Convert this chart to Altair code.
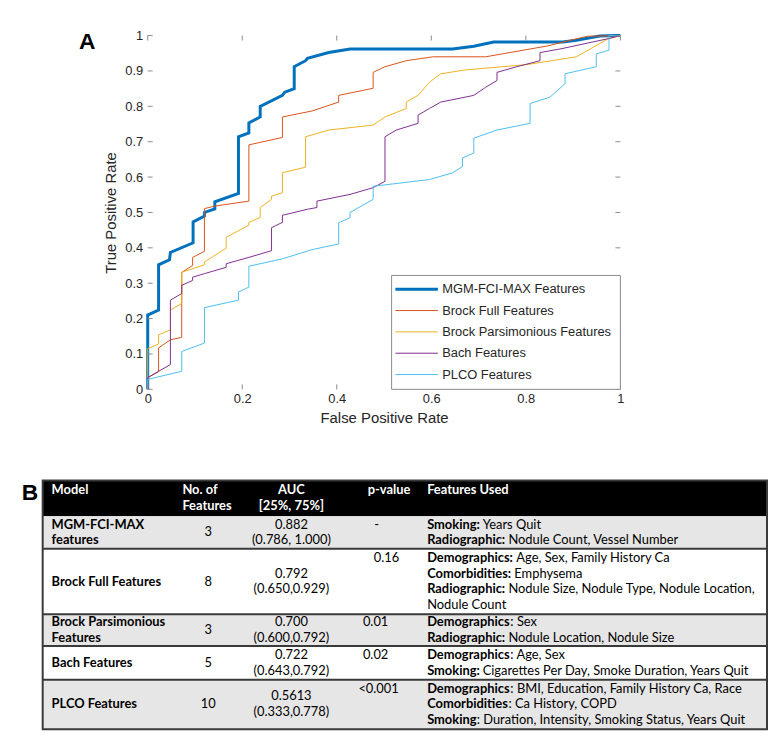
import altair as alt
import pandas as pd

# ---------------- ROC curve data ----------------
SERIES = ["MGM-FCI-MAX Features", "Brock Full Features",
          "Brock Parsimonious Features", "Bach Features", "PLCO Features"]
COLORS = ["#0072BD", "#D95319", "#EDB120", "#7E2F8E", "#4DBEEE"]
WIDTHS = [3.0, 1.0, 1.0, 1.0, 1.0]

MGM_FPR = [0, 0, 0.023, 0.023, 0.046, 0.048, 0.096, 0.096, 0.12, 0.12,
           0.142, 0.142, 0.192, 0.192, 0.214, 0.214, 0.238, 0.238, 0.285, 0.29,
           0.31, 0.31, 0.334, 0.338, 0.383, 0.428, 0.645, 0.69, 0.732, 0.878,
           0.907, 0.956, 0.99, 1.0]
MGM_TPR = [0, 0.21, 0.224, 0.352, 0.366, 0.387, 0.414, 0.473, 0.49, 0.50,
           0.51, 0.53, 0.554, 0.714, 0.725, 0.753, 0.77, 0.80, 0.831, 0.84,
           0.85, 0.912, 0.929, 0.936, 0.952, 0.962, 0.962, 0.97, 0.982, 0.982,
           0.987, 0.999, 1.0, 1.0]

BROCK_FPR = [0, 0, 0.023, 0.023, 0.048, 0.072, 0.072, 0.095, 0.095, 0.12,
             0.12, 0.142, 0.214, 0.214, 0.285, 0.285, 0.348, 0.404, 0.404, 0.477,
             0.477, 0.502, 0.547, 0.603, 0.715, 0.847, 0.904, 0.93, 1.0]
BROCK_TPR = [0, 0.033, 0.05, 0.117, 0.14, 0.147, 0.331, 0.35, 0.373, 0.39,
             0.511, 0.518, 0.532, 0.691, 0.712, 0.77, 0.787, 0.812, 0.831, 0.851,
             0.896, 0.912, 0.929, 0.94, 0.94, 0.971, 0.99, 0.998, 1.0]

PARS_FPR = [0, 0, 0.023, 0.023, 0.048, 0.048, 0.072, 0.072, 0.12, 0.12,
            0.166, 0.166, 0.214, 0.214, 0.238, 0.238, 0.262, 0.262, 0.285, 0.285,
            0.334, 0.334, 0.383, 0.477, 0.502, 0.547, 0.547, 0.572, 0.596, 0.62,
            0.673, 0.802, 0.907, 0.973, 1.0]
PARS_TPR = [0, 0.115, 0.128, 0.154, 0.168, 0.224, 0.243, 0.331, 0.352, 0.36,
            0.399, 0.43, 0.464, 0.472, 0.486, 0.514, 0.537, 0.546, 0.556, 0.612,
            0.628, 0.714, 0.733, 0.747, 0.77, 0.794, 0.812, 0.831, 0.868, 0.892,
            0.903, 0.918, 0.94, 0.99, 1.0]

BACH_FPR = [0, 0, 0.023, 0.048, 0.048, 0.072, 0.072, 0.095, 0.095, 0.12,
            0.166, 0.166, 0.214, 0.262, 0.262, 0.285, 0.285, 0.338, 0.358, 0.358,
            0.428, 0.477, 0.502, 0.502, 0.526, 0.572, 0.572, 0.596, 0.62, 0.69,
            0.715, 0.739, 0.739, 0.781, 0.83, 0.83, 0.872, 0.97, 1.0]
BACH_TPR = [0, 0.033, 0.051, 0.07, 0.252, 0.271, 0.294, 0.308, 0.317, 0.327,
            0.345, 0.355, 0.373, 0.392, 0.457, 0.472, 0.492, 0.509, 0.514, 0.532,
            0.551, 0.57, 0.588, 0.714, 0.733, 0.752, 0.775, 0.794, 0.812, 0.831,
            0.854, 0.873, 0.896, 0.912, 0.929, 0.952, 0.962, 0.99, 1.0]

PLCO_FPR = [0, 0, 0.072, 0.072, 0.12, 0.12, 0.192, 0.192, 0.214, 0.214,
            0.285, 0.348, 0.404, 0.404, 0.428, 0.428, 0.477, 0.477, 0.596, 0.645,
            0.666, 0.666, 0.69, 0.69, 0.739, 0.809, 0.809, 0.851, 0.883, 0.883,
            0.949, 0.949, 0.976, 0.976, 1.0]
PLCO_TPR = [0, 0.028, 0.051, 0.107, 0.131, 0.231, 0.252, 0.275, 0.289, 0.348,
            0.369, 0.395, 0.411, 0.471, 0.485, 0.50, 0.537, 0.574, 0.593, 0.612,
            0.63, 0.654, 0.668, 0.71, 0.733, 0.752, 0.808, 0.826, 0.864, 0.892,
            0.912, 0.948, 0.959, 1.0, 1.0]

X_TICKS = [0, 0.2, 0.4, 0.6, 0.8, 1]
Y_TICKS = [0, 0.1, 0.2, 0.3, 0.4, 0.5, 0.6, 0.7, 0.8, 0.9, 1]

# ---------------- table data ----------------
MODEL_LINES = [["MGM-FCI-MAX", "features"], ["Brock Full Features"],
               ["Brock Parsimonious", "Features"], ["Bach Features"], ["PLCO Features"]]
N_FEATURES = ["3", "8", "3", "5", "10"]
AUC = ["0.882", "0.792", "0.700", "0.722", "0.5613"]
AUC_IQR = ["(0.786, 1.000)", "(0.650,0.929)", "(0.600,0.792)", "(0.643,0.792)", "(0.333,0.778)"]
P_VALUES = ["-", "0.16", "0.01", "0.02", "<0.001"]
FEATURES_USED = [
    [("Smoking:", " Years Quit"), ("Radiographic:", " Nodule Count, Vessel Number")],
    [("Demographics:", " Age, Sex, Family History Ca"), ("Comorbidities:", " Emphysema"),
     ("Radiographic:", " Nodule Size, Nodule Type, Nodule Location,"), ("", "Nodule Count")],
    [("Demographics", ": Sex"), ("Radiographic:", " Nodule Location, Nodule Size")],
    [("Demographics", ": Age, Sex"), ("Smoking:", " Cigarettes Per Day, Smoke Duration, Years Quit")],
    [("Demographics", ": BMI, Education, Family History Ca, Race"), ("Comorbidities", ": Ca History, COPD"),
     ("Smoking", ": Duration, Intensity, Smoking Status, Years Quit")],
]
HEADER = [("Model",), ("No. of", "Features"), ("AUC", "[25%, 75%]"), ("p-value",), ("Features Used",)]

# ---------------- layout constants ----------------
W, H = 477, 357
ORIGIN_X = 149          # page x of the ROC plot origin
TABLE_LEFT, TABLE_RIGHT = 43, 774
ROW_EDGES = [482, 518, 551, 617, 649, 683, 733]
ROW_FILLS = ["#000000", "#e7e6e6", "#ffffff", "#e7e6e6", "#ffffff", "#e7e6e6"]
LINE_H = 16
COL_MODEL, COL_N, COL_AUC, COL_FEAT = 52, 210, 294, 431
COL_NHDR, COL_PHDR = 184, 371
P_CENTER = [380, 390, 379, 379, 382]
PREFIX_W = {"Smoking:": 53, "Smoking": 50, "Radiographic:": 79, "Demographics:": 87,
            "Demographics": 84, "Comorbidities:": 85, "Comorbidities": 82, "": 0}
SPACE_W = 3
TABLE_FONT = "Lato"
TFS = 13
AX_FONT = "Liberation Sans"
FRAME = "#8a8a8a"
LABEL_B_X, LABEL_B_Y = 22, 495

# ---------------- ROC chart ----------------
rows = []
for name, fx, ty in zip(SERIES, [MGM_FPR, BROCK_FPR, PARS_FPR, BACH_FPR, PLCO_FPR],
                        [MGM_TPR, BROCK_TPR, PARS_TPR, BACH_TPR, PLCO_TPR]):
    for i, (a, b) in enumerate(zip(fx, ty)):
        rows.append({"model": name, "fpr": a, "tpr": b, "i": i})
roc_df = pd.DataFrame(rows)

xscale = alt.Scale(domain=[0, 1], nice=False, zero=False)
yscale = alt.Scale(domain=[0, 1], nice=False, zero=False)
x_axis = alt.Axis(values=X_TICKS, format="~g", ticks=False, domain=False, grid=False,
                  labelFont=AX_FONT, labelFontSize=13, labelColor="#262626", labelPadding=3,
                  labelFlush=False, labelOverlap=False,
                  titleFont=AX_FONT, titleFontSize=15, titleFontWeight="normal",
                  titleColor="#262626", titlePadding=5)
y_axis = alt.Axis(values=Y_TICKS, format="~g", ticks=False, domain=False, grid=False,
                  labelFont=AX_FONT, labelFontSize=13, labelColor="#262626", labelPadding=5,
                  labelFlush=False, labelOverlap=False,
                  titleFont=AX_FONT, titleFontSize=15, titleFontWeight="normal",
                  titleColor="#262626", titlePadding=6)


def X(field):
    return alt.X(field, type="quantitative", scale=xscale, axis=x_axis, title="False Positive Rate")


def Y(field):
    return alt.Y(field, type="quantitative", scale=yscale, axis=y_axis, title="True Positive Rate")


color_enc = alt.Color("model:N", scale=alt.Scale(domain=SERIES, range=COLORS), legend=None)
width_enc = alt.StrokeWidth("model:N", scale=alt.Scale(type="ordinal", domain=SERIES, range=WIDTHS),
                            legend=None)

curves = alt.Chart(roc_df).mark_line(interpolate="linear").encode(
    x=X("fpr"), y=Y("tpr"), color=color_enc, strokeWidth=width_enc, order="i:Q")

# inner ticks (MATLAB style)
xt = pd.DataFrame({"fpr": X_TICKS})
yt = pd.DataFrame({"tpr": Y_TICKS})
tick_style = dict(color=FRAME, strokeWidth=1)
ticks_bottom = alt.Chart(xt).mark_rule(**tick_style).encode(x=X("fpr"), y=alt.value(H), y2=alt.value(H - 5))
ticks_top = alt.Chart(xt).mark_rule(**tick_style).encode(x=X("fpr"), y=alt.value(0), y2=alt.value(5))
ticks_left = alt.Chart(yt).mark_rule(**tick_style).encode(y=Y("tpr"), x=alt.value(0), x2=alt.value(5))
ticks_right = alt.Chart(yt).mark_rule(**tick_style).encode(y=Y("tpr"), x=alt.value(W), x2=alt.value(W - 5))

# legend drawn inside the axes (south-east)
LEG_X0, LEG_X1, LEG_TOP = 0.516, 1.0, 0.322
LEG_ROW0, LEG_STEP = 0.283, 0.0603
LEG_S0, LEG_S1, LEG_TX = 0.524, 0.614, 0.623
leg_box = pd.DataFrame({"fpr": [LEG_X0], "fpr2": [LEG_X1], "tpr": [0.0], "tpr2": [LEG_TOP]})
leg_rows = pd.DataFrame({
    "model": SERIES,
    "fpr": [LEG_S0] * len(SERIES),
    "fpr2": [LEG_S1] * len(SERIES),
    "lx": [LEG_TX] * len(SERIES),
    "tpr": [LEG_ROW0 - LEG_STEP * k for k in range(len(SERIES))],
})
legend_box = alt.Chart(leg_box).mark_rect(fill="white", stroke=FRAME, strokeWidth=1).encode(
    x=X("fpr"), x2="fpr2", y=Y("tpr"), y2="tpr2")
legend_lines = alt.Chart(leg_rows).mark_rule().encode(
    x=X("fpr"), x2="fpr2", y=Y("tpr"), color=color_enc, strokeWidth=width_enc)
legend_text = alt.Chart(leg_rows).mark_text(
    align="left", baseline="middle", font=AX_FONT, fontSize=13, color="#262626").encode(
    x=X("lx"), y=Y("tpr"), text="model:N")

label_a = alt.Chart(pd.DataFrame({"t": ["A"]})).mark_text(
    font=AX_FONT, fontSize=23, fontWeight="bold", align="center", baseline="middle", color="black"
).encode(x=alt.value(-61), y=alt.value(7), text="t:N")

roc = alt.layer(curves, ticks_bottom, ticks_top, ticks_left, ticks_right,
                legend_box, legend_lines, legend_text, label_a).properties(
    width=W, height=H, view=alt.ViewBackground(stroke=FRAME, strokeWidth=1))

# ---------------- table chart ----------------
TH = ROW_EDGES[-1] - ROW_EDGES[0]
tx = alt.Scale(domain=[TABLE_LEFT, TABLE_RIGHT],
               range=[TABLE_LEFT - ORIGIN_X, TABLE_RIGHT - ORIGIN_X], nice=False, zero=False)
ty = alt.Scale(domain=[ROW_EDGES[0], ROW_EDGES[-1]], range=[0, TH], nice=False, zero=False)


def TX(field):
    return alt.X(field, type="quantitative", scale=tx, axis=None)


def TY(field):
    return alt.Y(field, type="quantitative", scale=ty, axis=None)


bands = pd.DataFrame({
    "x0": [TABLE_LEFT] * 6, "x1": [TABLE_RIGHT] * 6,
    "y0": ROW_EDGES[:-1], "y1": ROW_EDGES[1:], "fill": ROW_FILLS,
})
band_layer = alt.Chart(bands).mark_rect().encode(
    x=TX("x0"), x2="x1", y=TY("y0"), y2="y1", color=alt.Color("fill:N", scale=None))

seps = pd.DataFrame({"x0": [TABLE_LEFT] * 4, "x1": [TABLE_RIGHT] * 4, "y0": ROW_EDGES[2:-1]})
sep_layer = alt.Chart(seps).mark_rule(color="#3a3a3a", strokeWidth=2).encode(
    x=TX("x0"), x2="x1", y=TY("y0"))

outline = pd.DataFrame({"x0": [TABLE_LEFT], "x1": [TABLE_RIGHT], "y0": [ROW_EDGES[0]], "y1": [ROW_EDGES[-1]]})
outline_layer = alt.Chart(outline).mark_rect(fill="transparent", stroke="#3a3a3a", strokeWidth=2).encode(
    x=TX("x0"), x2="x1", y=TY("y0"), y2="y1")

texts = []


def add(t, x, y, style):
    texts.append({"t": t, "x": x, "y": y, "style": style})


hdr_y0 = (ROW_EDGES[0] + ROW_EDGES[1]) / 2 - LINE_H / 2
add(HEADER[0][0], COL_MODEL, hdr_y0, "hdr_left")
for k, s in enumerate(HEADER[1]):
    add(s, COL_NHDR, hdr_y0 + k * LINE_H, "hdr_left")
for k, s in enumerate(HEADER[2]):
    add(s, COL_AUC, hdr_y0 + k * LINE_H, "hdr_center")
add(HEADER[3][0], COL_PHDR, hdr_y0, "hdr_left")
add(HEADER[4][0], COL_FEAT, hdr_y0, "hdr_left")


def block(n, cy):
    return [cy + (k - (n - 1) / 2) * LINE_H for k in range(n)]


for r in range(5):
    top, bot = ROW_EDGES[r + 1], ROW_EDGES[r + 2]
    cy = (top + bot) / 2
    for s, y in zip(MODEL_LINES[r], block(len(MODEL_LINES[r]), cy)):
        add(s, COL_MODEL, y, "bold_left")
    add(N_FEATURES[r], COL_N, cy, "center")
    for s, y in zip([AUC[r], AUC_IQR[r]], block(2, cy)):
        add(s, COL_AUC, y, "center")
    fys = block(len(FEATURES_USED[r]), cy)
    add(P_VALUES[r], P_CENTER[r], fys[0], "center")
    for (b, rest), y in zip(FEATURES_USED[r], fys):
        if b:
            add(b, COL_FEAT, y, "bold_left")
        off = PREFIX_W[b] + (SPACE_W if rest.startswith(" ") else 0)
        add(rest.strip(), COL_FEAT + off, y, "left")

add("B", LABEL_B_X, LABEL_B_Y, "label")
text_df = pd.DataFrame(texts)

STYLES = {
    "hdr_left": dict(align="left", fontWeight="bold", color="white", font=TABLE_FONT, fontSize=TFS),
    "hdr_center": dict(align="center", fontWeight="bold", color="white", font=TABLE_FONT, fontSize=TFS),
    "bold_left": dict(align="left", fontWeight="bold", color="black", font=TABLE_FONT, fontSize=TFS),
    "left": dict(align="left", fontWeight="normal", color="black", font=TABLE_FONT, fontSize=TFS),
    "center": dict(align="center", fontWeight="normal", color="black", font=TABLE_FONT, fontSize=TFS),
    "label": dict(align="left", fontWeight="bold", color="black", font=AX_FONT, fontSize=23),
}
text_layers = []
for st, kw in STYLES.items():
    text_layers.append(
        alt.Chart(text_df).transform_filter(alt.datum.style == st).mark_text(baseline="middle", **kw)
        .encode(x=TX("x"), y=TY("y"), text="t:N"))

table = alt.layer(band_layer, sep_layer, outline_layer, *text_layers).properties(
    width=W, height=TH, view=alt.ViewBackground(strokeOpacity=0))

chart = alt.vconcat(roc, table, spacing=ROW_EDGES[0] - 390, bounds="flush").properties(
    padding={"left": LABEL_B_X - 8, "top": 18.5, "right": 0, "bottom": 0}
).configure_view(strokeOpacity=0)

chart.save("out.html", embed_options={"renderer": "svg", "actions": False})
